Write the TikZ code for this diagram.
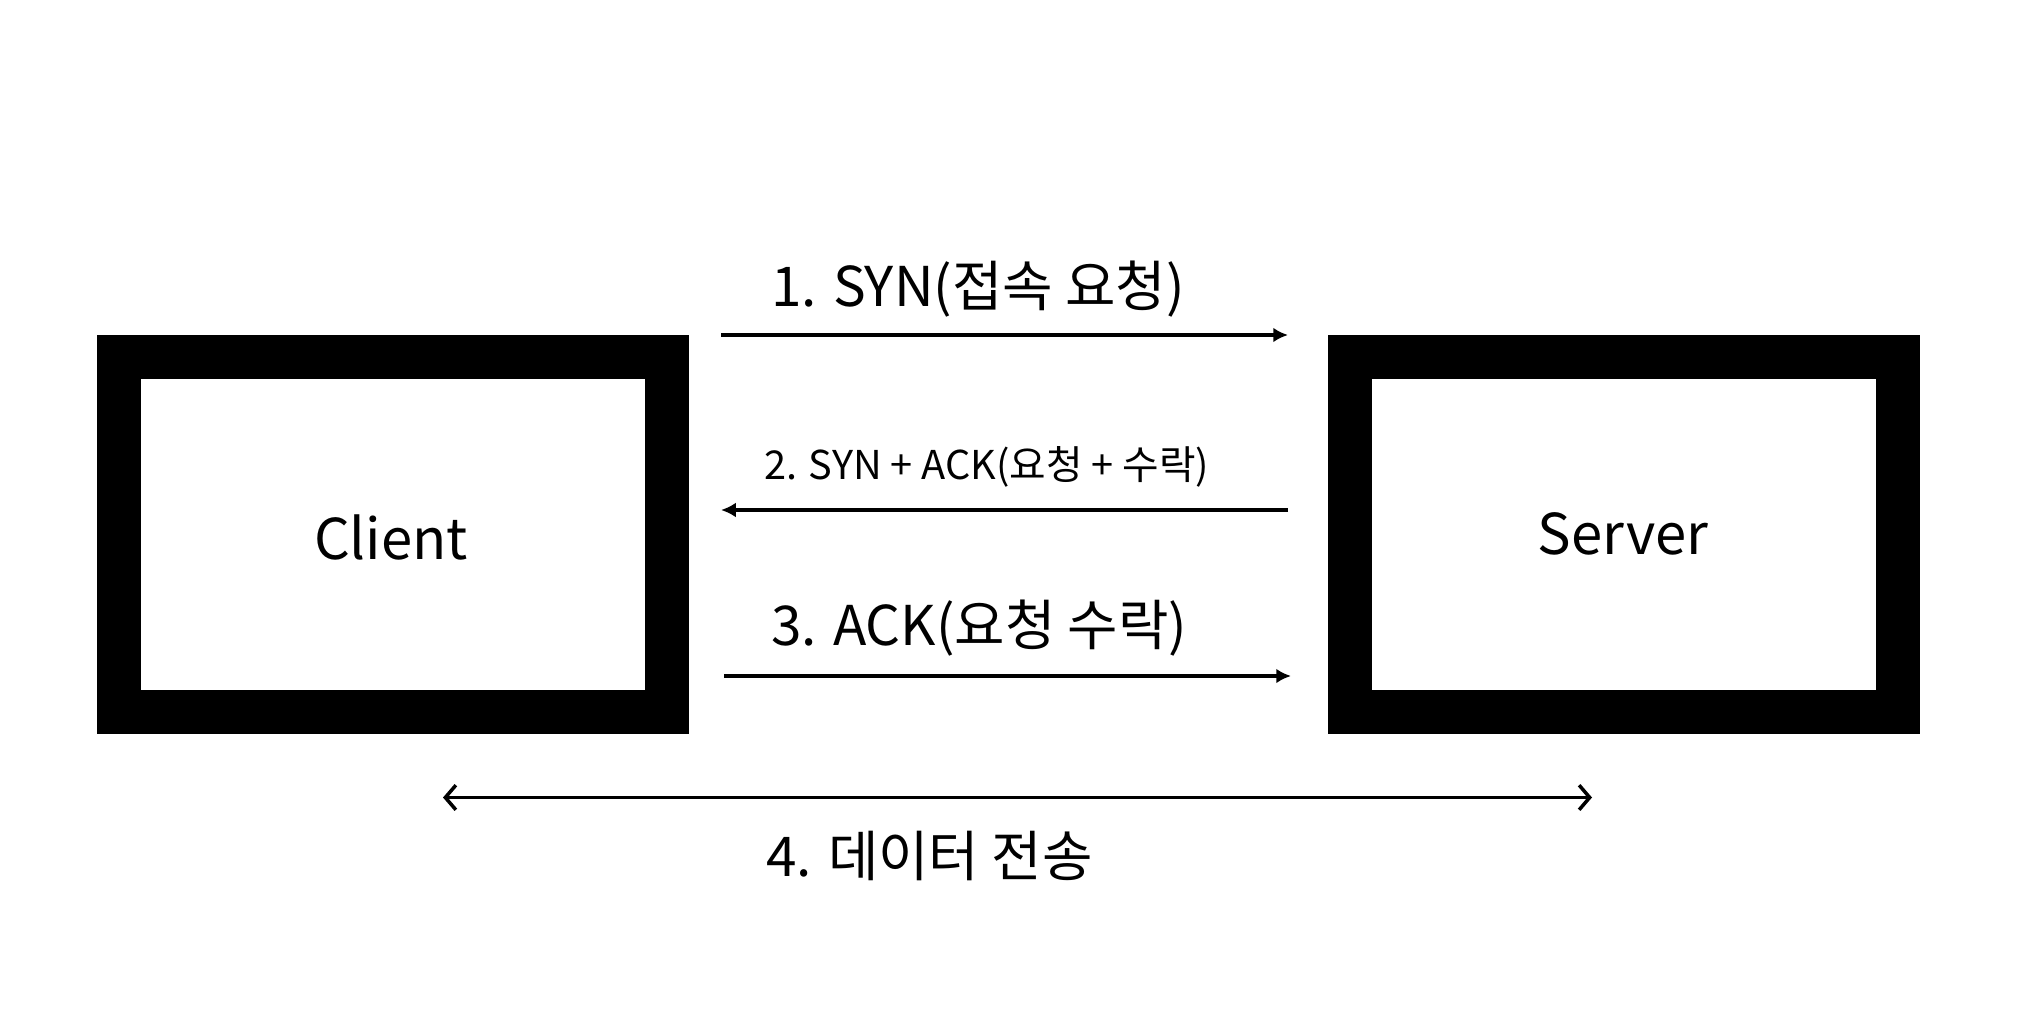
\documentclass[tikz,border=0pt]{standalone}
\usepackage{fontspec}
\setmainfont{Noto Sans CJK KR}
\usepackage{tikz}
\usetikzlibrary{shapes,arrows,arrows.meta}

\begin{document}
\begin{tikzpicture}
				\tikzstyle{every node}=[inner sep=0pt, outer sep=0pt];
				\tikzstyle{hostbox}=[draw, line width=0.44cm, minimum width=5.48cm, minimum height=3.55cm];
				\tikzstyle{hostname}=[anchor=base, font=\fontsize{16}{19}\selectfont];
				\tikzstyle{msg}=[anchor=base west, font=\fontsize{15.6}{18}\selectfont];
				\tikzstyle{msgsmall}=[anchor=base west, font=\fontsize{11.3}{14}\selectfont];
				\tikzstyle{flow}=[line width=0.9pt, -{Latex[length=4.2pt,width=4.2pt]}];
				\useasboundingbox (0,0) rectangle (20.3,10.3);
				\node [hostbox] (client) at (3.93, 4.955) {};
				\node [hostbox] (server) at (16.24, 4.955) {};
				\node [hostname] (tclient) at (3.91, 4.71) {Client};
				\node [hostname] (tserver) at (16.23, 4.76) {Server};
				\coordinate (s1) at (7.21, 6.95);
				\coordinate (e1) at (12.88, 6.95);
				\coordinate (s2) at (12.88, 5.20);
				\coordinate (e2) at (7.21, 5.20);
				\coordinate (s3) at (7.24, 3.54);
				\coordinate (e3) at (12.91, 3.54);
				\coordinate (s4) at (4.43, 2.325);
				\coordinate (e4) at (15.92, 2.325);
				\node [msg] (t1) at (7.71, 7.23) {1. SYN(접속 요청)};
				\node [msgsmall] (t2) at (7.64, 5.51) {2. SYN + ACK(요청 + 수락)};
				\node [msg] (t3) at (7.71, 3.85) {3. ACK(요청 수락)};
				\node [msg] (t4) at (7.66, 1.54) {4. 데이터 전송};
				\draw [flow] (s1) -- (e1);
				\draw [flow] (s2) -- (e2);
				\draw [flow] (s3) -- (e3);
				\draw [line width=1pt, {Straight Barb[length=3pt,width=7pt]}-{Straight Barb[length=3pt,width=7pt]}] (s4) -- (e4);
			\end{tikzpicture}
\end{document}
